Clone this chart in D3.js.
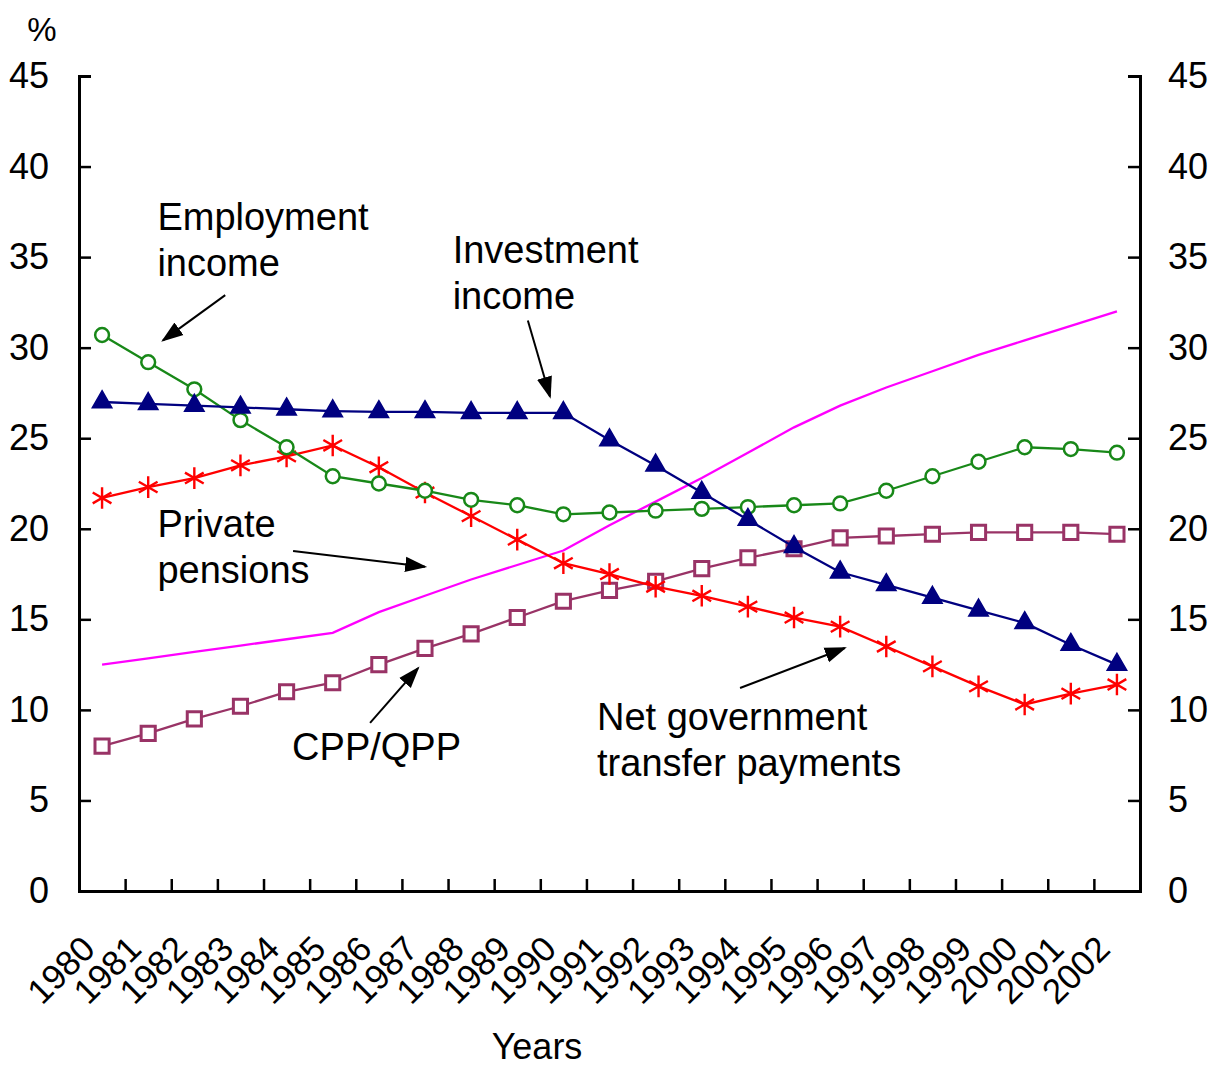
<!DOCTYPE html>
<html>
<head>
<meta charset="utf-8">
<script src="https://cdn.jsdelivr.net/npm/d3@7"></script>
<style>
  body { margin: 0; background: #fff; }
  text { font-family: Arial, "Liberation Sans", sans-serif; fill: #000; }
</style>
</head>
<body>
<div id="chart"></div>
<script>
var years = d3.range(1980, 2003).map(String);
var yTicks = [0, 5, 10, 15, 20, 25, 30, 35, 40, 45];

var employment = [30.7, 29.2, 27.7, 26.0, 24.5, 22.9, 22.5, 22.1, 21.6, 21.3, 20.8, 20.9,
                  21.0, 21.1, 21.2, 21.3, 21.4, 22.1, 22.9, 23.7, 24.5, 24.4, 24.2];
var investment = [27.0, 26.9, 26.8, 26.7, 26.6, 26.5, 26.45, 26.45, 26.4, 26.4, 26.4, 24.9,
                  23.5, 22.0, 20.5, 19.0, 17.6, 16.9, 16.2, 15.5, 14.8, 13.6, 12.5];
var transfers  = [21.7, 22.3, 22.8, 23.5, 24.0, 24.6, 23.4, 22.0, 20.7, 19.4, 18.1, 17.5,
                  16.8, 16.3, 15.7, 15.1, 14.6, 13.5, 12.4, 11.3, 10.3, 10.9, 11.4];
var cppqpp     = [8.0, 8.7, 9.5, 10.2, 11.0, 11.5, 12.5, 13.4, 14.2, 15.1, 16.0, 16.6,
                  17.1, 17.8, 18.4, 18.9, 19.5, 19.6, 19.7, 19.8, 19.8, 19.8, 19.7];
var pensions   = [12.5, 12.85, 13.2, 13.55, 13.9, 14.25, 15.4, 16.3, 17.2, 18.0, 18.8, 20.2,
                  21.5, 22.8, 24.2, 25.6, 26.8, 27.8, 28.7, 29.6, 30.4, 31.2, 32.0];

var series = [
  { name: 'pensions',   values: pensions,   color: '#ff00ff', symbol: null },
  { name: 'cppqpp',     values: cppqpp,     color: '#993366', symbol: d3.symbolSquare,   size: 200, fill: '#fff', sw: 3 },
  { name: 'transfers',  values: transfers,  color: '#ff0000', symbol: d3.symbolAsterisk, size: 330, fill: 'none', sw: 2.4 },
  { name: 'employment', values: employment, color: '#188818', symbol: d3.symbolCircle,   size: 150, fill: '#fff', sw: 2.5 },
  { name: 'investment', values: investment, color: '#000080', symbol: d3.symbolTriangle, size: 165, fill: '#000080', sw: 1.5 }
];

// annotations in (year, value) coordinates
var notes = [
  { lines: ['Employment', 'income'], at: [1981.2, 36.5], arrow: [[1982.67, 32.9], [1981.32, 30.4]] },
  { lines: ['Investment', 'income'], at: [1987.6, 34.7], arrow: [[1989.23, 31.5], [1989.71, 27.3]] },
  { lines: ['Private', 'pensions'],  at: [1981.2, 19.55], arrow: [[1984.14, 18.77], [1987.0, 17.9]] },
  { lines: ['CPP/QPP'],              at: [1984.12, 7.23], arrow: [[1985.81, 9.28], [1986.85, 12.31]] },
  { lines: ['Net government', 'transfer payments'], at: [1990.73, 8.89], arrow: [[1993.83, 11.21], [1996.1, 13.42]] }
];

var W = 1220, H = 1067,
    mLeft = 79, mRight = 1140, mTop = 76, mBottom = 891;

var svg = d3.select('#chart').append('svg')
    .attr('width', W)
    .attr('height', H);

svg.append('defs').append('marker')
    .attr('id', 'head')
    .attr('viewBox', '0 0 10 10')
    .attr('refX', 9).attr('refY', 5)
    .attr('markerUnits', 'userSpaceOnUse')
    .attr('orient', 'auto')
    .attr('markerWidth', 22).attr('markerHeight', 22)
  .append('path')
    .attr('d', 'M0,1.5 L10,5 L0,8.5 Z')
    .attr('fill', '#000');

var x = d3.scaleBand().domain(years).range([mLeft, mRight]);
var xEdge = d3.scaleLinear().domain([0, years.length]).range([mLeft, mRight]);
var xYear = d3.scaleLinear().domain([1979.5, 2002.5]).range([mLeft, mRight]);
var y = d3.scaleLinear().domain([0, 45]).range([mBottom, mTop]);

// axes
var yl = svg.append('g').attr('transform', 'translate(' + mLeft + ',0)')
    .call(d3.axisLeft(y).tickValues(yTicks).tickSizeInner(-12).tickSizeOuter(-12).tickPadding(30));
var yr = svg.append('g').attr('transform', 'translate(' + mRight + ',0)')
    .call(d3.axisRight(y).tickValues(yTicks).tickSizeInner(-12).tickSizeOuter(-12).tickPadding(28));
var xb = svg.append('g').attr('transform', 'translate(0,' + mBottom + ')')
    .call(d3.axisBottom(xEdge).tickValues(d3.range(0, years.length + 1)).tickFormat('').tickSizeInner(-12).tickSizeOuter(0));

[yl, yr, xb].forEach(function(g) {
  g.selectAll('path.domain').attr('stroke', '#000').attr('stroke-width', 3);
  g.selectAll('.tick line').attr('stroke', '#000').attr('stroke-width', 2.5);
  g.selectAll('.tick text').style('font-size', '36px').attr('fill', '#000');
});

// rotated year labels
svg.append('g').selectAll('text')
    .data(years)
    .enter()
      .append('text')
      .attr('transform', function(d) {
        return 'translate(' + (x(d) + x.bandwidth() / 2 - 5) + ',' + (mBottom + 60) + ') rotate(-45)';
      })
      .attr('text-anchor', 'end')
      .style('font-size', '35px')
      .text(function(d) { return d; });

svg.append('text').attr('x', 537).attr('y', 1059).attr('text-anchor', 'middle')
    .style('font-size', '36px').text('Years');
svg.append('text').attr('x', 42).attr('y', 41).attr('text-anchor', 'middle')
    .style('font-size', '33px').text('%');

// lines
var line = d3.line()
    .x(function(d, i) { return x(years[i]) + x.bandwidth() / 2; })
    .y(function(d) { return y(d); });

series.forEach(function(s) {
  var g = svg.append('g').attr('class', 'series-' + s.name);
  g.append('path')
    .attr('d', line(s.values))
    .attr('fill', 'none')
    .attr('stroke', s.color)
    .attr('stroke-width', 2.3);
  if (s.symbol) {
    g.selectAll('.pt')
      .data(s.values)
      .enter()
        .append('path')
        .attr('class', 'pt')
        .attr('transform', function(d, i) {
          return 'translate(' + (x(years[i]) + x.bandwidth() / 2) + ',' + y(d) + ')';
        })
        .attr('d', d3.symbol().type(s.symbol).size(s.size))
        .attr('fill', s.fill)
        .attr('stroke', s.color)
        .attr('stroke-width', s.sw);
  }
});

// annotations
var ann = svg.append('g').attr('class', 'notes');
notes.forEach(function(n) {
  var t = ann.append('text')
    .attr('x', xYear(n.at[0]))
    .attr('y', y(n.at[1]))
    .style('font-size', '38px');
  n.lines.forEach(function(l, i) {
    t.append('tspan').attr('x', xYear(n.at[0])).attr('dy', i ? 46 : 0).text(l);
  });
  ann.append('line')
    .attr('x1', xYear(n.arrow[0][0])).attr('y1', y(n.arrow[0][1]))
    .attr('x2', xYear(n.arrow[1][0])).attr('y2', y(n.arrow[1][1]))
    .attr('stroke', '#000')
    .attr('stroke-width', 2)
    .attr('marker-end', 'url(#head)');
});
</script>
</body>
</html>
